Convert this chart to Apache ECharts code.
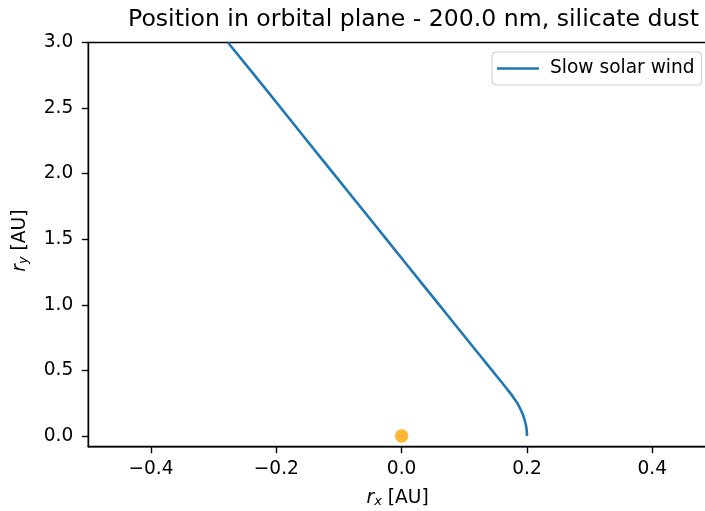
<!DOCTYPE html>
<html>
<head>
<meta charset="utf-8">
<script src="https://cdn.jsdelivr.net/npm/echarts@6/dist/echarts.min.js"></script>
<style>html,body{margin:0;padding:0;background:#fff;}#c{width:705px;height:511px;}</style>
</head>
<body>
<div id="c"></div>
<script>
// Trajectory of the dust grain (r_x, r_y) in AU
const rx = [0.2000, 0.1996, 0.1984, 0.1964, 0.1936, 0.1900, 0.1845, 0.1776, 0.1695, 0.1612, 0.1443, 0.1273, 0.0835, 0.0300, -0.0235, -0.0770, -0.1305, -0.1840, -0.2375, -0.2772];
const ry = [0.000, 0.040, 0.080, 0.120, 0.160, 0.200, 0.250, 0.300, 0.350, 0.400, 0.500, 0.600, 0.860, 1.177, 1.495, 1.813, 2.130, 2.449, 2.767, 3.000];
// Sun position
const sunX = [0.0];
const sunY = [0.0];
const seriesName = 'Slow solar wind';
const xTicks = [-0.4, -0.2, 0.0, 0.2, 0.4];
const yTicks = [0.0, 0.5, 1.0, 1.5, 2.0, 2.5, 3.0];

const font = 'DejaVu Sans';
const fs = 18.6;
const fmt = v => (v < -1e-9 ? '\u2212' : '') + Math.abs(v).toFixed(1);
const richName = {
  i: {fontFamily: font, fontStyle: 'italic', fontSize: fs, color: '#000'},
  s: {fontFamily: font, fontStyle: 'italic', fontSize: 13, color: '#000', verticalAlign: 'bottom', padding: [7, 0, 0, 0]}
};

const chart = echarts.init(document.getElementById('c'), null, {renderer: 'canvas'});
chart.setOption({
  animation: false,
  backgroundColor: '#fff',
  title: {
    text: 'Position in orbital plane - 200.0 nm, silicate dust',
    left: 123,
    top: 3,
    textStyle: {fontFamily: font, fontSize: 23.6, fontWeight: 'normal', color: '#000'}
  },
  legend: {
    data: [{name: seriesName, icon: 'rect'}],
    left: 492, top: 52,
    itemWidth: 42, itemHeight: 2.7,
    padding: [6, 7, 6, 5],
    backgroundColor: 'rgba(255,255,255,0.8)',
    borderColor: '#cccccc', borderWidth: 1, borderRadius: 4,
    textStyle: {fontFamily: font, fontSize: fs, color: '#000', lineHeight: 21, padding: [0, 0, 0, 6]}
  },
  grid: {
    left: 88.3, top: 42.5, width: 626.7, height: 404.2,
    outerBoundsMode: 'none',
    containLabel: false,
    show: true, borderColor: '#000', borderWidth: 1.4
  },
  xAxis: {
    type: 'value', min: -0.5, max: 0.5,
    name: '{i|r}{s|x} [AU]',
    nameLocation: 'middle', nameGap: 41,
    nameTextStyle: {fontFamily: font, fontSize: fs, color: '#000', rich: richName, padding: [0, 8, 0, 0]},
    axisLine: {show: true, onZero: false, lineStyle: {color: '#000', width: 1.4}},
    axisTick: {show: true, length: 6.5, customValues: xTicks, lineStyle: {color: '#000', width: 1.4}},
    axisLabel: {customValues: xTicks, formatter: fmt, margin: 13, fontFamily: font, fontSize: fs, color: '#000'},
    splitLine: {show: false}
  },
  yAxis: {
    type: 'value', min: -0.0816, max: 3.0,
    name: '{i|r}{s|y} [AU]',
    nameLocation: 'middle', nameGap: 58, nameRotate: 90,
    nameTextStyle: {fontFamily: font, fontSize: fs, color: '#000', rich: richName, padding: [0, 0, 0, 8]},
    axisLine: {show: true, onZero: false, lineStyle: {color: '#000', width: 1.4}},
    axisTick: {show: true, length: 6.5, customValues: yTicks, lineStyle: {color: '#000', width: 1.4}},
    axisLabel: {customValues: yTicks, formatter: fmt, margin: 15, fontFamily: font, fontSize: fs, color: '#000'},
    splitLine: {show: false}
  },
  series: [
    {
      name: seriesName,
      type: 'line',
      data: rx.map((x, i) => [x, ry[i]]),
      showSymbol: false, symbol: 'none',
      smooth: 0.2,
      clip: true,
      lineStyle: {color: '#1f77b4', width: 2.6},
      itemStyle: {color: '#1f77b4'}
    },
    {
      name: 'Sun',
      type: 'scatter',
      data: sunX.map((x, i) => [x, sunY[i]]),
      symbol: 'circle', symbolSize: 13.5,
      itemStyle: {color: '#ffa500'}
    }
  ]
});
</script>
</body>
</html>
